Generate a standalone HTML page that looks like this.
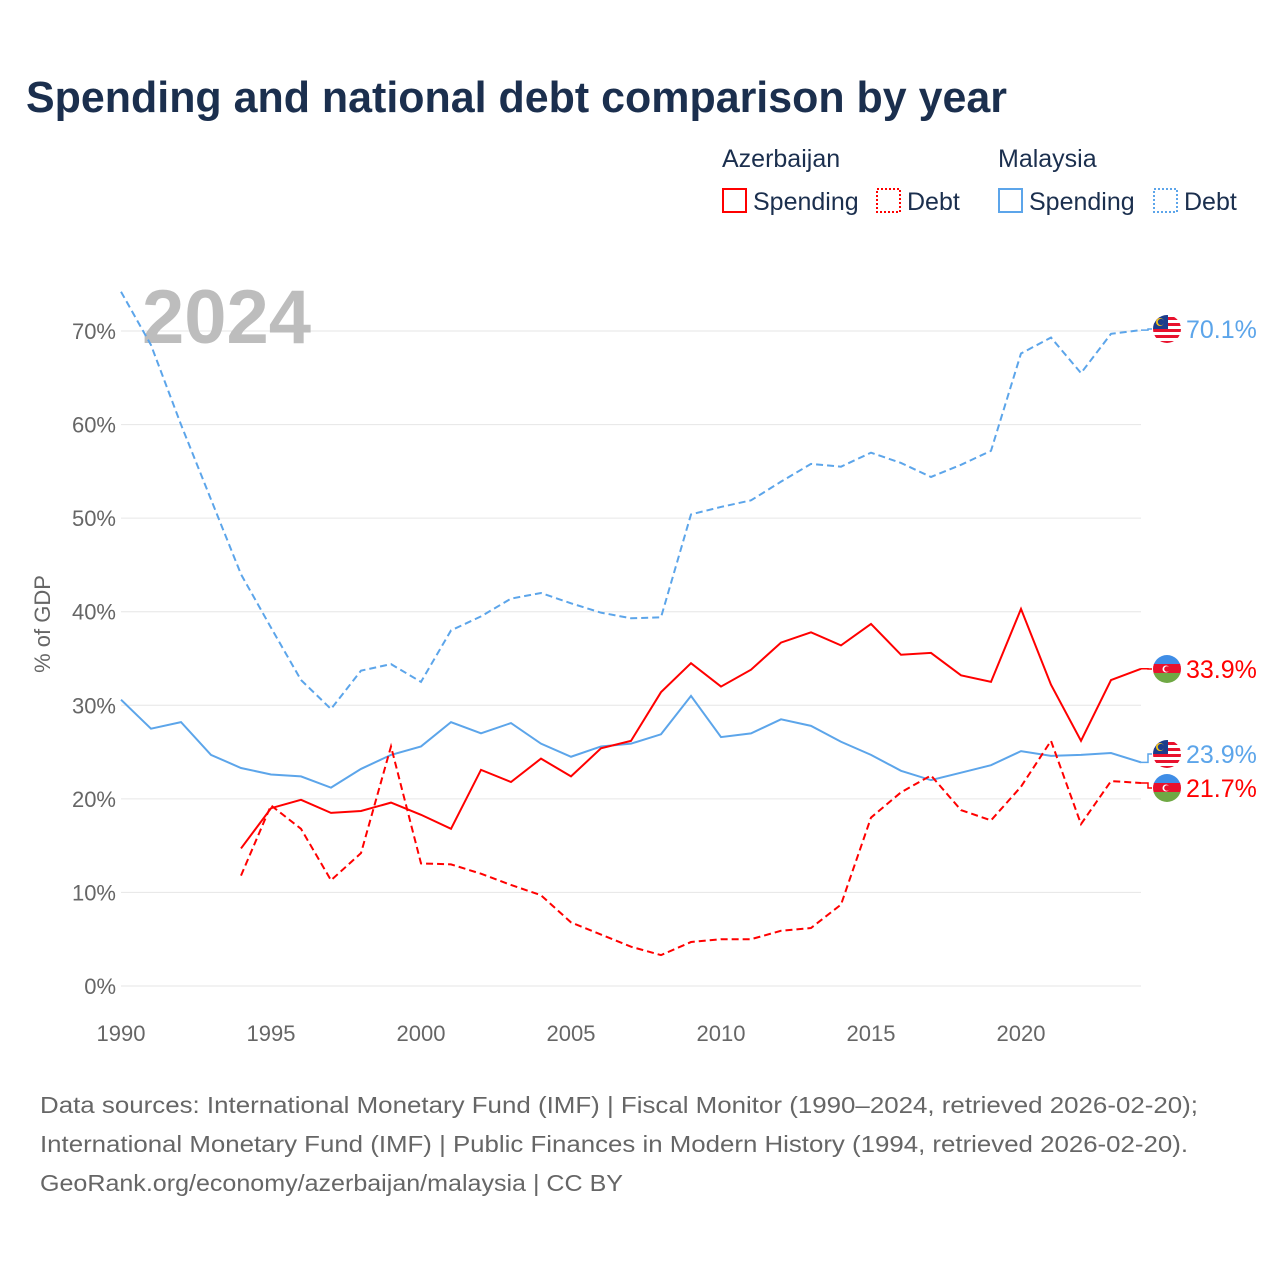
<!DOCTYPE html>
<html><head><meta charset="utf-8"><style>
body{margin:0;background:#fff;font-family:"Liberation Sans",sans-serif}
</style></head><body>
<svg id="chart" width="1280" height="1280" xmlns="http://www.w3.org/2000/svg" font-family="Liberation Sans, sans-serif">
<defs>
<clipPath id="c1"><circle cx="0" cy="0" r="14"/></clipPath>
<g id="flag-az">
<g clip-path="url(#c1)"><rect x="-14" y="-14" width="28" height="10" fill="#3f8de6"/><rect x="-14" y="-5" width="28" height="10" fill="#e8112d"/><rect x="-14" y="4" width="28" height="10" fill="#6fa844"/><circle cx="-1" cy="0" r="3.5" fill="#fff"/><circle cx="0" cy="0" r="2.8" fill="#e8112d"/></g></g>
<g id="flag-my">
<g clip-path="url(#c1)"><rect x="-14" y="-14" width="28" height="28" fill="#fff"/>
<rect x="-14" y="-12" width="28" height="3" fill="#e8112d"/><rect x="-14" y="-6" width="28" height="3" fill="#e8112d"/><rect x="-14" y="0" width="28" height="3" fill="#e8112d"/><rect x="-14" y="6" width="28" height="3" fill="#e8112d"/><rect x="-14" y="12" width="28" height="3" fill="#e8112d"/>
<rect x="-14" y="-14" width="15" height="14" fill="#1c3d8c"/><circle cx="-7" cy="-7" r="4" fill="#f5c518"/><circle cx="-6" cy="-7" r="3.2" fill="#1c3d8c"/></g></g>
</defs>
<text x="26" y="112" font-size="44" font-weight="bold" fill="#1b2f4e" textLength="981" lengthAdjust="spacingAndGlyphs">Spending and national debt comparison by year</text>
<g font-size="25" fill="#1b2f4e">
<text x="722" y="167">Azerbaijan</text>
<text x="998" y="167">Malaysia</text>
<rect x="723" y="189" width="23" height="23" fill="none" stroke="#ff0000" stroke-width="2"/>
<text x="753" y="210">Spending</text>
<rect x="877" y="189" width="23" height="23" fill="none" stroke="#ff0000" stroke-width="2" stroke-dasharray="2,2"/>
<text x="907" y="210">Debt</text>
<rect x="999" y="189" width="23" height="23" fill="none" stroke="#5ca5ea" stroke-width="2"/>
<text x="1029" y="210">Spending</text>
<rect x="1154" y="189" width="23" height="23" fill="none" stroke="#5ca5ea" stroke-width="2" stroke-dasharray="2,2"/>
<text x="1184" y="210">Debt</text>
</g>
<g id="grid"></g>
<text x="142" y="343" font-size="76" font-weight="bold" fill="#bdbdbd">2024</text>
<text transform="translate(50,624) rotate(-90)" text-anchor="middle" font-size="22" fill="#666">% of GDP</text>
<g id="series"></g>
<g id="labels"></g>
<g font-size="23" fill="#666">
<text x="40" y="1113" textLength="1158" lengthAdjust="spacingAndGlyphs">Data sources: International Monetary Fund (IMF) | Fiscal Monitor (1990–2024, retrieved 2026-02-20);</text>
<text x="40" y="1152" textLength="1148" lengthAdjust="spacingAndGlyphs">International Monetary Fund (IMF) | Public Finances in Modern History (1994, retrieved 2026-02-20).</text>
<text x="40" y="1191" textLength="583" lengthAdjust="spacingAndGlyphs">GeoRank.org/economy/azerbaijan/malaysia | CC BY</text>
</g>
</svg>
<script>
const years=[1990,1991,1992,1993,1994,1995,1996,1997,1998,1999,2000,2001,2002,2003,2004,2005,2006,2007,2008,2009,2010,2011,2012,2013,2014,2015,2016,2017,2018,2019,2020,2021,2022,2023,2024];
const myDebt=[74.2,68.5,60,52,44,38.3,32.7,29.6,33.7,34.4,32.5,38,39.5,41.4,42,40.9,39.9,39.3,39.4,50.4,51.2,51.9,53.9,55.8,55.5,57,55.9,54.4,55.7,57.2,67.6,69.3,65.5,69.7,70.1];
const mySpend=[30.6,27.5,28.2,24.7,23.3,22.6,22.4,21.2,23.2,24.7,25.6,28.2,27,28.1,25.9,24.5,25.6,25.9,26.9,31,26.6,27,28.5,27.8,26.1,24.7,23,22,22.8,23.6,25.1,24.6,24.7,24.9,23.9];
const azSpend=[null,null,null,null,14.7,19,19.9,18.5,18.7,19.6,18.3,16.8,23.1,21.8,24.3,22.4,25.4,26.2,31.4,34.5,32,33.8,36.7,37.8,36.4,38.7,35.4,35.6,33.2,32.5,40.3,32.2,26.2,32.7,33.9];
const azDebt=[null,null,null,null,11.8,19.3,16.8,11.3,14.2,25.6,13.1,13,12,10.8,9.7,6.8,5.5,4.2,3.3,4.7,5,5,5.9,6.2,8.7,18,20.7,22.5,18.8,17.7,21.3,26.2,17.3,21.9,21.7];
const yTicks=[0,10,20,30,40,50,60,70];
const xTicks=[1990,1995,2000,2005,2010,2015,2020];
const NS="http://www.w3.org/2000/svg";
const X=y=>121+(y-1990)*30;
const Y=v=>986-v*9.357;
const grid=document.getElementById('grid');
function mk(t,a,p){const e=document.createElementNS(NS,t);for(const k in a)e.setAttribute(k,a[k]);p.appendChild(e);return e;}
yTicks.forEach(v=>{
 const l=mk('line',{x1:121,x2:1141,y1:Y(v),y2:Y(v),stroke:'#e6e6e6','stroke-width':1},grid);
 
 
 const t=mk('text',{x:116,y:Y(v)+8,'text-anchor':'end','font-size':22,fill:'#666'},grid);
 t.textContent=v+'%';
 
 
});
xTicks.forEach(y=>{
 const t=mk('text',{x:X(y),y:1041,'text-anchor':'middle','font-size':22,fill:'#666'},grid);
 t.textContent=y;
 
 
});
const ser=document.getElementById('series');
function line(vals,color,dash,name){
 let d='';let started=false;
 vals.forEach((v,i)=>{if(v==null)return;d+=(started?'L':'M')+X(years[i])+','+Y(v);started=true;});
 const p=mk('path',{d:d,fill:'none',stroke:color,'stroke-width':2,'stroke-dasharray':dash},ser);
 
 
}
line(myDebt,'#5ca5ea','7,4','line-malaysia-debt');
line(mySpend,'#5ca5ea','none','line-malaysia-spending');
line(azDebt,'#ff0000','7,4','line-azerbaijan-debt');
line(azSpend,'#ff0000','none','line-azerbaijan-spending');
const lab=document.getElementById('labels');
function endLabel(vals,ly,color,flag,name){
 const v=vals[vals.length-1];
 mk('path',{d:`M1141,${Y(v)}L1148,${Y(v)}L1148,${ly}L1152,${ly}`,fill:'none',stroke:color,'stroke-width':1.5},lab);
 const u=mk('use',{href:'#'+flag,transform:`translate(1167,${ly})`},lab);
 
 
 const t=mk('text',{x:1186,y:ly+9,'font-size':25,fill:color},lab);
 t.textContent=v.toFixed(1)+'%';
 
 
}
endLabel(myDebt,329,'#5ca5ea','flag-my','malaysia-debt');
endLabel(azSpend,669,'#ff0000','flag-az','azerbaijan-spending');
endLabel(mySpend,754,'#5ca5ea','flag-my','malaysia-spending');
endLabel(azDebt,788,'#ff0000','flag-az','azerbaijan-debt');
</script>
</body></html>
